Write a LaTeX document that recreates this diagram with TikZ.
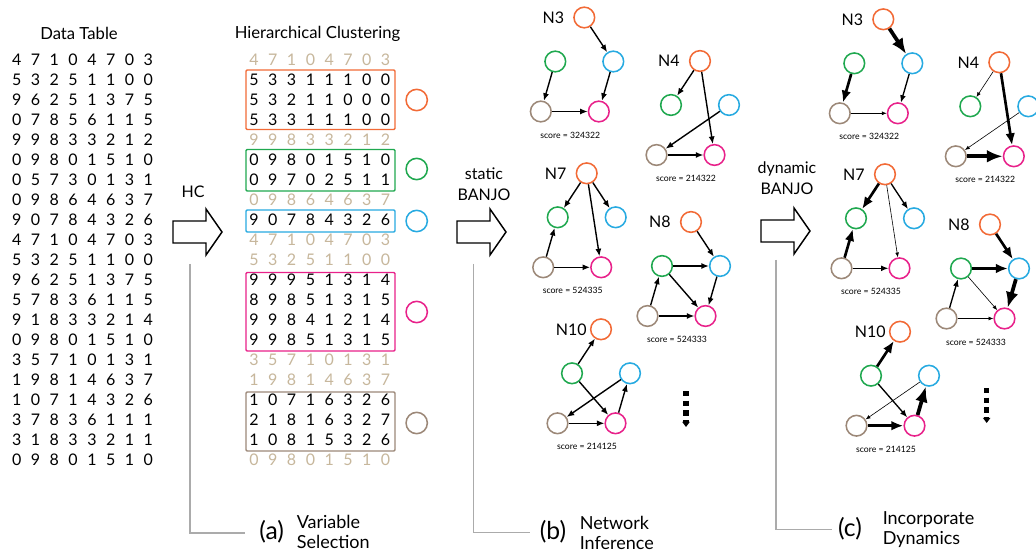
\documentclass[tikz,border=0pt]{standalone}
\usepackage{fontspec}
\setmainfont{Lato}
\usetikzlibrary{arrows.meta}

\definecolor{corange}{HTML}{F26A36}
\definecolor{cgreen}{HTML}{1FA84F}
\definecolor{cblue}{HTML}{27AAE1}
\definecolor{cpink}{HTML}{E8218A}
\definecolor{cbrown}{HTML}{9C8878}
\definecolor{ctan}{HTML}{C7B79C}
\definecolor{cline}{HTML}{ABABAB}

% one row of digits: prefix, row number, style, left x, digits
\newcommand\digitrow[5]{%
  \foreach \dg [count=\k] in {#5}
    \node[#3] (#1-#2-\k) at ({#4+(\k-1)*18.8},{40+#2*20}) {\dg};}

% five-variable network: prefix, origin x, origin y, title, score, title gap
\newcommand\network[6]{%
  \node[vn, draw=corange] (#1-o) at (#2,#3) {};
  \node[vn, draw=cgreen]  (#1-g) at ({#2-29},{#3+44}) {};
  \node[vn, draw=cblue]   (#1-b) at ({#2+29},{#3+44}) {};
  \node[vn, draw=cbrown]  (#1-r) at ({#2-43.5},{#3+94}) {};
  \node[vn, draw=cpink]   (#1-p) at ({#2+14.5},{#3+94}) {};
  \node[nlabel, anchor=east] (#1-t) at ({#2-#6},#3) {#4};
  \node[score] (#1-s) at ({#2-14},{#3+117.5}) {score = #5};}

% outlined block arrow: left x, centre y
\newcommand\blockarrow[2]{%
  \draw[barrow] (#1,#2-11) -- ++(33,0) -- ++(0,-12) -- ++(16,23)
    -- ++(-16,23) -- ++(0,-12) -- ++(-33,0) -- cycle;}

\begin{document}
\begin{tikzpicture}[x=0.75pt,y=-0.75pt,
  title/.style={font=\fontsize{12.5}{15}\selectfont, inner sep=0pt},
  digit/.style={inner sep=0pt, font=\fontsize{12}{14}\selectfont},
  dk/.style={digit, text=black},
  dg/.style={digit, text=ctan},
  cbox/.style={line width=1.1pt, rounded corners=0.8pt},
  vn/.style={circle, line width=1.15pt, minimum size=15.5pt, inner sep=0pt},
  nlabel/.style={font=\fontsize{12}{14}\selectfont, inner sep=0pt},
  score/.style={font=\fontsize{6.5}{7.5}\selectfont, inner sep=0pt},
  step label/.style={font=\fontsize{12}{15.5}\selectfont, inner sep=0pt, align=center},
  part/.style={font=\fontsize{18.5}{20}\selectfont, inner sep=0pt},
  partname/.style={font=\fontsize{13.5}{15}\selectfont, inner sep=0pt, align=left, anchor=west},
  barrow/.style={draw=black, fill=white, line width=1.1pt, line join=miter},
  bracket/.style={draw=cline, line width=1pt},
  ed/.style={-{Latex[length=2pt 3.5, width'=0pt 0.8]}, line width=1.05pt},
  ewA/.style={ed, line width=0.45pt},
  ewB/.style={ed, line width=1pt},
  ewC/.style={ed, line width=2pt},
  ewD/.style={ed, line width=2.8pt},
  more/.style={line width=3.9pt, dash pattern=on 4pt off 3.3pt,
    -{Triangle[length=3.8pt, width=5.4pt]}},
]
\fill[white] (0,0) rectangle (1036,556);
\useasboundingbox (0,0) rectangle (1036,556);

% ---------- data table ----------
\node[title, anchor=base] (dt-title) at (79,39.5) {Data Table};
\digitrow{dt}{1}{dk}{16.7}{4,7,1,0,4,7,0,3}
\digitrow{dt}{2}{dk}{16.7}{5,3,2,5,1,1,0,0}
\digitrow{dt}{3}{dk}{16.7}{9,6,2,5,1,3,7,5}
\digitrow{dt}{4}{dk}{16.7}{0,7,8,5,6,1,1,5}
\digitrow{dt}{5}{dk}{16.7}{9,9,8,3,3,2,1,2}
\digitrow{dt}{6}{dk}{16.7}{0,9,8,0,1,5,1,0}
\digitrow{dt}{7}{dk}{16.7}{0,5,7,3,0,1,3,1}
\digitrow{dt}{8}{dk}{16.7}{0,9,8,6,4,6,3,7}
\digitrow{dt}{9}{dk}{16.7}{9,0,7,8,4,3,2,6}
\digitrow{dt}{10}{dk}{16.7}{4,7,1,0,4,7,0,3}
\digitrow{dt}{11}{dk}{16.7}{5,3,2,5,1,1,0,0}
\digitrow{dt}{12}{dk}{16.7}{9,6,2,5,1,3,7,5}
\digitrow{dt}{13}{dk}{16.7}{5,7,8,3,6,1,1,5}
\digitrow{dt}{14}{dk}{16.7}{9,1,8,3,3,2,1,4}
\digitrow{dt}{15}{dk}{16.7}{0,9,8,0,1,5,1,0}
\digitrow{dt}{16}{dk}{16.7}{3,5,7,1,0,1,3,1}
\digitrow{dt}{17}{dk}{16.7}{1,9,8,1,4,6,3,7}
\digitrow{dt}{18}{dk}{16.7}{1,0,7,1,4,3,2,6}
\digitrow{dt}{19}{dk}{16.7}{3,7,8,3,6,1,1,1}
\digitrow{dt}{20}{dk}{16.7}{3,1,8,3,3,2,1,1}
\digitrow{dt}{21}{dk}{16.7}{0,9,8,0,1,5,1,0}

% ---------- hierarchical clustering ----------
\node[title, anchor=base] (hc-title) at (317.5,39) {Hierarchical Clustering};
\digitrow{hc}{1}{dg}{254}{4,7,1,0,4,7,0,3}
\digitrow{hc}{2}{dk}{254}{5,3,3,1,1,1,0,0}
\digitrow{hc}{3}{dk}{254}{5,3,2,1,1,0,0,0}
\digitrow{hc}{4}{dk}{254}{5,3,3,1,1,1,0,0}
\digitrow{hc}{5}{dg}{254}{9,9,8,3,3,2,1,2}
\digitrow{hc}{6}{dk}{254}{0,9,8,0,1,5,1,0}
\digitrow{hc}{7}{dk}{254}{0,9,7,0,2,5,1,1}
\digitrow{hc}{8}{dg}{254}{0,9,8,6,4,6,3,7}
\digitrow{hc}{9}{dk}{254}{9,0,7,8,4,3,2,6}
\digitrow{hc}{10}{dg}{254}{4,7,1,0,4,7,0,3}
\digitrow{hc}{11}{dg}{254}{5,3,2,5,1,1,0,0}
\digitrow{hc}{12}{dk}{254}{9,9,9,5,1,3,1,4}
\digitrow{hc}{13}{dk}{254}{8,9,8,5,1,3,1,5}
\digitrow{hc}{14}{dk}{254}{9,9,8,4,1,2,1,4}
\digitrow{hc}{15}{dk}{254}{9,9,8,5,1,3,1,5}
\digitrow{hc}{16}{dg}{254}{3,5,7,1,0,1,3,1}
\digitrow{hc}{17}{dg}{254}{1,9,8,1,4,6,3,7}
\digitrow{hc}{18}{dk}{254}{1,0,7,1,6,3,2,6}
\digitrow{hc}{19}{dk}{254}{2,1,8,1,6,3,2,7}
\digitrow{hc}{20}{dk}{254}{1,0,8,1,5,3,2,6}
\digitrow{hc}{21}{dg}{254}{0,9,8,0,1,5,1,0}

% cluster frames
\draw[cbox, draw=corange] (246,70) rectangle (395,129.5);
\draw[cbox, draw=cgreen]  (246,149.5) rectangle (395,191);
\draw[cbox, draw=cblue]   (246,210) rectangle (395,232);
\draw[cbox, draw=cpink]   (246,272.5) rectangle (395,351);
\draw[cbox, draw=cbrown]  (246,392) rectangle (395,451);

% cluster representatives
\node[vn, draw=corange, minimum size=16pt] (cl-o) at (416.7,100) {};
\node[vn, draw=cgreen, minimum size=16pt]  (cl-g) at (416.7,169) {};
\node[vn, draw=cblue, minimum size=16pt]   (cl-b) at (416.7,221) {};
\node[vn, draw=cpink, minimum size=16pt]   (cl-p) at (416.7,312) {};
\node[vn, draw=cbrown, minimum size=16pt]  (cl-r) at (416.7,423) {};

% ---------- step arrows ----------
\blockarrow{173}{232}
\node[step label] (hc-label) at (193,192) {HC};
\blockarrow{457}{232}
\node[step label] (static-label) at (484,184) {static\\BANJO};
\blockarrow{761}{231}
\node[step label] (dynamic-label) at (787,178.5) {dynamic\\BANJO};

% ---------- stage captions ----------
\coordinate (ba-top) at (190,264);
\coordinate (ba-end) at (245,533);
\draw[bracket] (ba-top) |- (ba-end);
\node[part] (pa) at (271.7,531.5) {(a)};
\node[partname] (pa-name) at (296.5,531.5) {Variable\\Selection};

\coordinate (bb-top) at (473.3,264);
\coordinate (bb-end) at (530,532.3);
\draw[bracket] (bb-top) |- (bb-end);
\node[part] (pb) at (553,531.5) {(b)};
\node[partname] (pb-name) at (579.5,533) {Network\\Inference};

\coordinate (bc-top) at (776,260);
\coordinate (bc-end) at (832,529.3);
\draw[bracket] (bc-top) |- (bc-end);
\node[part] (pc) at (850,529) {(c)};
\node[partname] (pc-name) at (882.5,529.5) {Incorporate\\Dynamics};

% ---------- static networks ----------
\network{s3}{584.3}{17.5}{N3}{324322}{20}
\draw[ed] (s3-o) -- (s3-b);
\draw[ed] (s3-g) -- (s3-r);
\draw[ed] (s3-b) -- (s3-p);
\draw[ed] (s3-r) -- (s3-p);

\network{s4}{700}{61}{N4}{214322}{20}
\draw[ed] (s4-o) -- (s4-g);
\draw[ed] (s4-o) -- (s4-p);
\draw[ed] (s4-b) -- (s4-r);
\draw[ed] (s4-r) -- (s4-p);

\network{s7}{586.7}{173.3}{N7}{524335}{20}
\draw[ed] (s7-o) -- (s7-g);
\draw[ed] (s7-o) -- (s7-b);
\draw[ed] (s7-o) -- (s7-p);
\draw[ed] (s7-r) -- (s7-g);
\draw[ed] (s7-r) -- (s7-p);

\network{s8}{691}{222}{N8}{524333}{20}
\draw[ed] (s8-o) -- (s8-b);
\draw[ed] (s8-g) -- (s8-b);
\draw[ed] (s8-g) -- (s8-p);
\draw[ed] (s8-b) -- (s8-p);
\draw[ed] (s8-r) -- (s8-g);
\draw[ed] (s8-r) -- (s8-p);

\network{s10}{601}{329.3}{N10}{214125}{14}
\draw[ed] (s10-g) -- (s10-o);
\draw[ed] (s10-g) -- (s10-p);
\draw[ed] (s10-b) -- (s10-r);
\draw[ed] (s10-r) -- (s10-p);
\draw[ed] (s10-p) -- (s10-b);

\coordinate (s-more-a) at (686,391);
\coordinate (s-more-b) at (686,427);
\draw[more] (s-more-a) -- (s-more-b);

% ---------- dynamic networks (edge weight = line width) ----------
\network{d3}{883.3}{19.3}{N3}{324322}{20}
\draw[ewD] (d3-o) -- (d3-b);
\draw[ewC] (d3-g) -- (d3-r);
\draw[ewB] (d3-b) -- (d3-p);
\draw[ewA] (d3-r) -- (d3-p);

\network{d4}{999.3}{62.3}{N4}{214322}{20}
\draw[ewA] (d4-o) -- (d4-g);
\draw[ewC] (d4-o) -- (d4-p);
\draw[ewA] (d4-b) -- (d4-r);
\draw[ewD] (d4-r) -- (d4-p);

\network{d7}{885}{174.3}{N7}{524335}{20}
\draw[ewC] (d7-o) -- (d7-g);
\draw[ewB] (d7-o) -- (d7-b);
\draw[ewA] (d7-o) -- (d7-p);
\draw[ewC] (d7-r) -- (d7-g);
\draw[ewB] (d7-r) -- (d7-p);

\network{d8}{990}{224.5}{N8}{524333}{20}
\draw[ewC] (d8-o) -- (d8-b);
\draw[ewC] (d8-g) -- (d8-b);
\draw[ewA] (d8-g) -- (d8-p);
\draw[ewD] (d8-b) -- (d8-p);
\draw[ewB] (d8-r) -- (d8-g);
\draw[ewA] (d8-r) -- (d8-p);

\network{d10}{900}{331.7}{N10}{214125}{14}
\draw[ewC] (d10-g) -- (d10-o);
\draw[ewB] (d10-g) -- (d10-p);
\draw[ewA] (d10-b) -- (d10-r);
\draw[ewC] (d10-r) -- (d10-p);
\draw[ewD] (d10-p) -- (d10-b);

\coordinate (d-more-a) at (986.7,388);
\coordinate (d-more-b) at (986.7,423);
\draw[more] (d-more-a) -- (d-more-b);
\end{tikzpicture}
\end{document}
